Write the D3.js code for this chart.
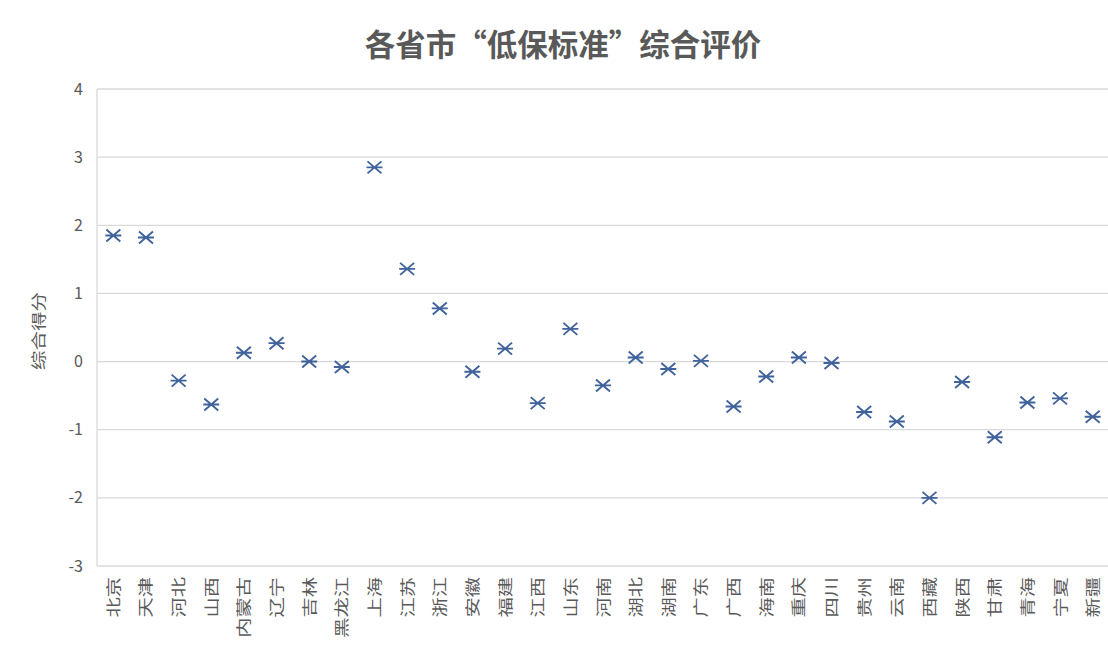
<!DOCTYPE html>
<html>
<head>
<meta charset="utf-8">
<script src="https://cdn.jsdelivr.net/npm/d3@7"></script>
<style>
  html, body { margin: 0; padding: 0; background: #fff; }
  svg { display: block; }
  text { font-family: "Noto Sans CJK SC", "Noto Sans", sans-serif; }
</style>
</head>
<body>
<svg id="chart" width="1108" height="646"></svg>
<script>
// Provinces and their composite "minimum living standard" scores
const provinces = ["北京","天津","河北","山西","内蒙古","辽宁","吉林","黑龙江","上海","江苏","浙江","安徽","福建","江西","山东","河南","湖北","湖南","广东","广西","海南","重庆","四川","贵州","云南","西藏","陕西","甘肃","青海","宁夏","新疆"];
const scores = [1.85, 1.82, -0.28, -0.63, 0.13, 0.27, 0.0, -0.08, 2.85, 1.36, 0.78, -0.15, 0.19, -0.61, 0.48, -0.35, 0.06, -0.11, 0.01, -0.66, -0.22, 0.06, -0.02, -0.74, -0.88, -2.0, -0.30, -1.11, -0.60, -0.54, -0.81];
const yTicks = [-3, -2, -1, 0, 1, 2, 3, 4];

const titleText = "各省市“低保标准”综合评价";
const yTitle = "综合得分";

const svg = d3.select("#chart");
const left = 97;
const W = 1108;

const x = d3.scaleBand().domain(provinces).range([left, 1109]);
const y = d3.scaleLinear().domain([-3, 4]).range([566, 89]);

const grey = "#d9d9d9";
const textGrey = "#595959";

// Horizontal gridlines
svg.append("g")
  .selectAll("line")
  .data(yTicks)
  .join("line")
  .attr("x1", left).attr("x2", W)
  .attr("y1", d => y(d)).attr("y2", d => y(d))
  .attr("stroke", grey).attr("stroke-width", 1.3);

// Vertical axis line
svg.append("line")
  .attr("x1", left).attr("x2", left)
  .attr("y1", y(4)).attr("y2", y(-3))
  .attr("stroke", grey).attr("stroke-width", 1.3);

// Y axis tick labels (plain hyphen for negatives)
const yAxis = d3.axisLeft(y).tickValues(yTicks).tickSize(0).tickPadding(0).tickFormat(d => String(d));
const yg = svg.append("g").attr("transform", `translate(${left - 14},0)`).call(yAxis);
yg.select(".domain").remove();
yg.selectAll("text")
  .attr("font-size", 16).attr("fill", textGrey)
  .attr("font-family", "'Open Sans', 'Noto Sans', sans-serif");

// X axis category labels, rotated to read bottom-to-top, glyphs slightly elongated
const xAxis = d3.axisBottom(x).tickSize(0).tickPadding(0);
const xg = svg.append("g").attr("transform", `translate(0,${y(-3)})`).call(xAxis);
xg.select(".domain").remove();
xg.selectAll("text")
  .attr("font-size", 15).attr("fill", textGrey)
  .attr("text-anchor", "end")
  .attr("dy", null)
  .attr("transform", "translate(5.5,11) rotate(-90) scale(1.35,1)");

// Asterisk-style markers (X with a horizontal bar)
const markerPath = "M-7,-6L7,6M-7,6L7,-6M-8,0L8,0";
svg.append("g")
  .selectAll("path")
  .data(provinces.map((p, i) => ({ p, v: scores[i] })))
  .join("path")
  .attr("transform", d => `translate(${x(d.p) + x.bandwidth() / 2},${y(d.v)})`)
  .attr("d", markerPath)
  .attr("stroke", "#41639c")
  .attr("stroke-width", 1.9)
  .attr("fill", "none");

// Chart title
svg.append("text")
  .attr("x", 563).attr("y", 56)
  .attr("text-anchor", "middle")
  .attr("font-size", 30.5).attr("font-weight", "bold")
  .attr("fill", textGrey)
  .text(titleText);

// Y axis title
svg.append("text")
  .attr("transform", `translate(44,331) rotate(-90) scale(1.3,1)`)
  .attr("text-anchor", "middle")
  .attr("font-size", 15).attr("fill", textGrey)
  .text(yTitle);
</script>
</body>
</html>
